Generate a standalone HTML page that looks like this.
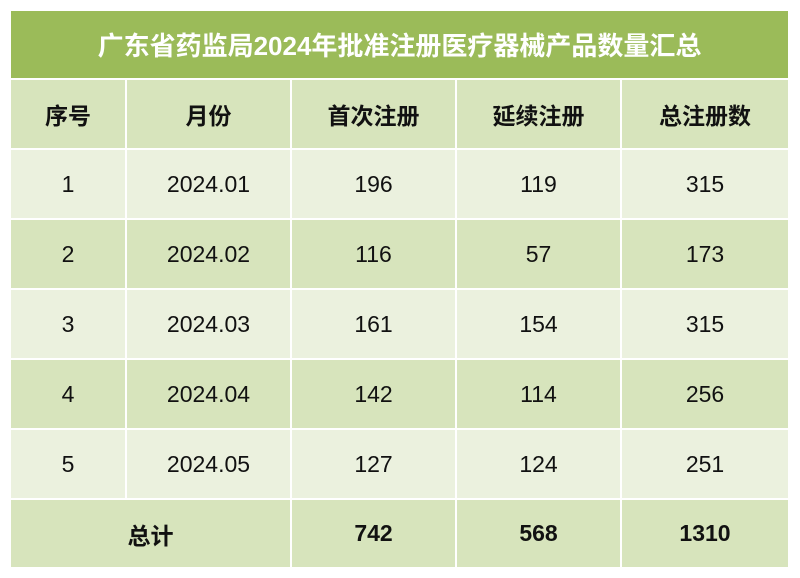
<!DOCTYPE html>
<html><head><meta charset="utf-8"><style>
body{margin:0;width:800px;height:578px;background:#fff;font-family:"Liberation Sans","Noto Sans CJK SC",sans-serif;position:relative;overflow:hidden}
.t{position:absolute;left:11px;top:11px;width:777px;height:67px;background:#9bbb59;color:#fff;font-weight:bold;font-size:26px;display:flex;align-items:center;justify-content:center}
.c{position:absolute;display:flex;align-items:center;justify-content:center;font-size:23px;color:#111}
.b{font-weight:bold}
</style></head><body>
<div class="t">广东省药监局2024年批准注册医疗器械产品数量汇总</div>
<div id="g"></div>
<script>
var xs=[11,127,292,457,622,788];
var ys=[80,150,220,290,360,430,500,567];
var rows=[["序号","月份","首次注册","延续注册","总注册数"],
["1","2024.01","196","119","315"],["2","2024.02","116","57","173"],["3","2024.03","161","154","315"],
["4","2024.04","142","114","256"],["5","2024.05","127","124","251"],["总计","","742","568","1310"]];
var h="";
for(var r=0;r<7;r++){
 var bg=(r==0||r==2||r==4||r==6)?"#d7e4bc":"#ebf1de";
 var bold=(r==0||r==6)?" b":"";
 var bot=ys[r+1]-(r==6?0:2);
 if(r==6){
  h+='<div class="c b" style="left:'+xs[0]+'px;top:'+ys[r]+'px;width:'+(xs[2]-2-xs[0])+'px;height:'+(bot-ys[r])+'px;background:'+bg+'">总计</div>';
  for(var c=2;c<5;c++){var w=xs[c+1]-xs[c]-(c<4?2:0);
  h+='<div class="c b" style="left:'+xs[c]+'px;top:'+ys[r]+'px;width:'+w+'px;height:'+(bot-ys[r])+'px;background:'+bg+'">'+rows[r][c]+'</div>';}
 } else for(var c=0;c<5;c++){var w=xs[c+1]-xs[c]-(c<4?2:0);
  h+='<div class="c'+bold+'" style="left:'+xs[c]+'px;top:'+ys[r]+'px;width:'+w+'px;height:'+(bot-ys[r])+'px;background:'+bg+'">'+rows[r][c]+'</div>';}
}
document.getElementById("g").innerHTML=h;
</script>
</body></html>
